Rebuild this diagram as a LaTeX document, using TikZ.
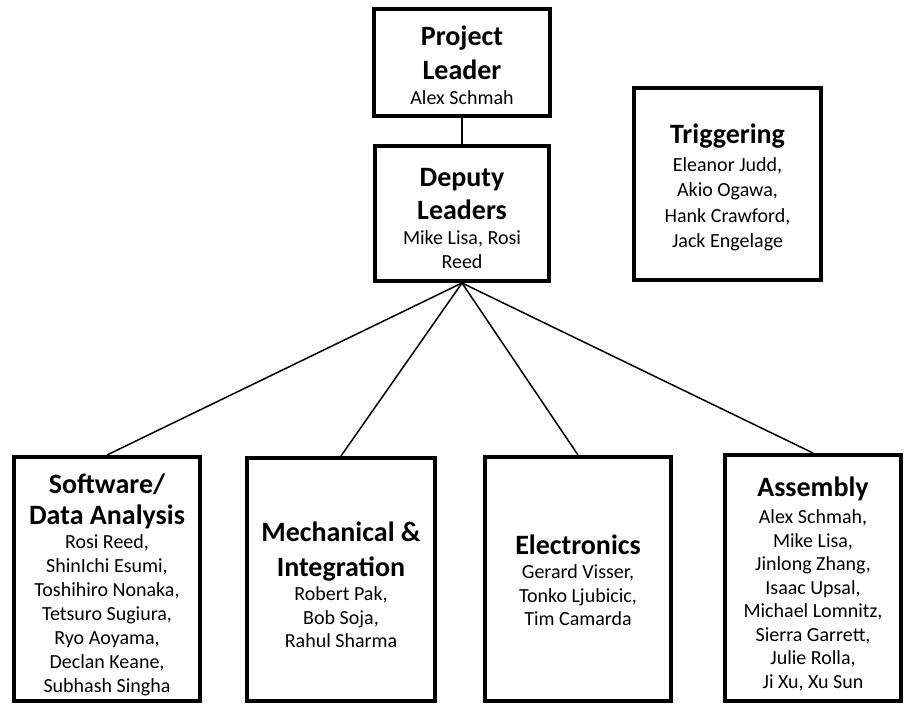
\documentclass[tikz,border=0pt]{standalone}
\usepackage{fontspec}
\setmainfont{Carlito}
\usepackage{tikz}

\tikzset{
  team/.style={draw, line width=4pt, rectangle, inner sep=0pt},
  crew/.style={align=center, inner sep=0pt, font=\fontsize{20}{24.5}\selectfont},
  link/.style={draw, line width=1.5pt}
}
\newcommand{\head}[1]{{\bfseries\fontsize{28}{34}\selectfont #1}}

\begin{document}
\begin{tikzpicture}[x=1pt, y=-1pt]
  \useasboundingbox (0,0) rectangle (904,704);
  \node[team, minimum width=176pt, minimum height=107pt,
    label={[crew, yshift=-2.5pt]center:{\head{Project}\\[10pt]\head{Leader}\\Alex Schmah}}]
    (lead) at (462, 62.5) {};
  \node[team, minimum width=174pt, minimum height=135pt,
    label={[crew, yshift=-5pt]center:{\head{Deputy}\\[8.5pt]\head{Leaders}\\[0.5pt]Mike Lisa, Rosi\\Reed}}]
    (deputy) at (462, 213.5) {};
  \node[team, minimum width=187pt, minimum height=192pt,
    label={[crew, yshift=-3.5pt]center:{\head{Triggering}\\[3pt]Eleanor Judd,\\[1pt]Akio Ogawa,\\[1pt]Hank Crawford,\\[1pt]Jack Engelage}}]
    (trig) at (727.5, 184) {};
  \node[team, minimum width=186pt, minimum height=244pt,
    label={[crew, yshift=-6pt]center:{\head{Software/}\\[6.5pt]\head{Data Analysis}\\Rosi Reed,\\[-0.5pt]ShinIchi Esumi,\\[-0.5pt]Toshihiro Nonaka,\\[-0.5pt]Tetsuro Sugiura,\\[-0.5pt]Ryo Aoyama,\\[-0.5pt]Declan Keane,\\[-0.5pt]Subhash Singha}}]
    (soft) at (107, 579) {};
  \node[team, minimum width=188pt, minimum height=243pt,
    label={[crew, yshift=-5pt]center:{\head{Mechanical \&}\\[10.5pt]\head{Integration}\\Robert Pak,\\[-1pt]Bob Soja,\\[-1pt]Rahul Sharma}}]
    (mech) at (341, 579.5) {};
  \node[team, minimum width=186pt, minimum height=244pt,
    label={[crew, yshift=-1pt]center:{\head{Electronics}\\Gerard Visser,\\[-1pt]Tonko Ljubicic,\\[-1pt]Tim Camarda}}]
    (elec) at (578, 579) {};
  \node[team, minimum width=176pt, minimum height=246pt,
    label={[crew, yshift=-6pt]center:{\head{Assembly}\\[2.5pt]Alex Schmah,\\[-1pt]Mike Lisa,\\[-1pt]Jinlong Zhang,\\[-1pt]Isaac Upsal,\\[-1pt]Michael Lomnitz,\\[-1pt]Sierra Garrett,\\[-1pt]Julie Rolla,\\[-1pt]Ji Xu, Xu Sun}}]
    (asm) at (813, 578) {};
  \draw[link] (lead) -- (deputy);
  \draw[link] (deputy.south) -- (soft.north);
  \draw[link] (deputy.south) -- (mech.north);
  \draw[link] (deputy.south) -- (elec.north);
  \draw[link] (deputy.south) -- (asm.north);
\end{tikzpicture}
\end{document}
